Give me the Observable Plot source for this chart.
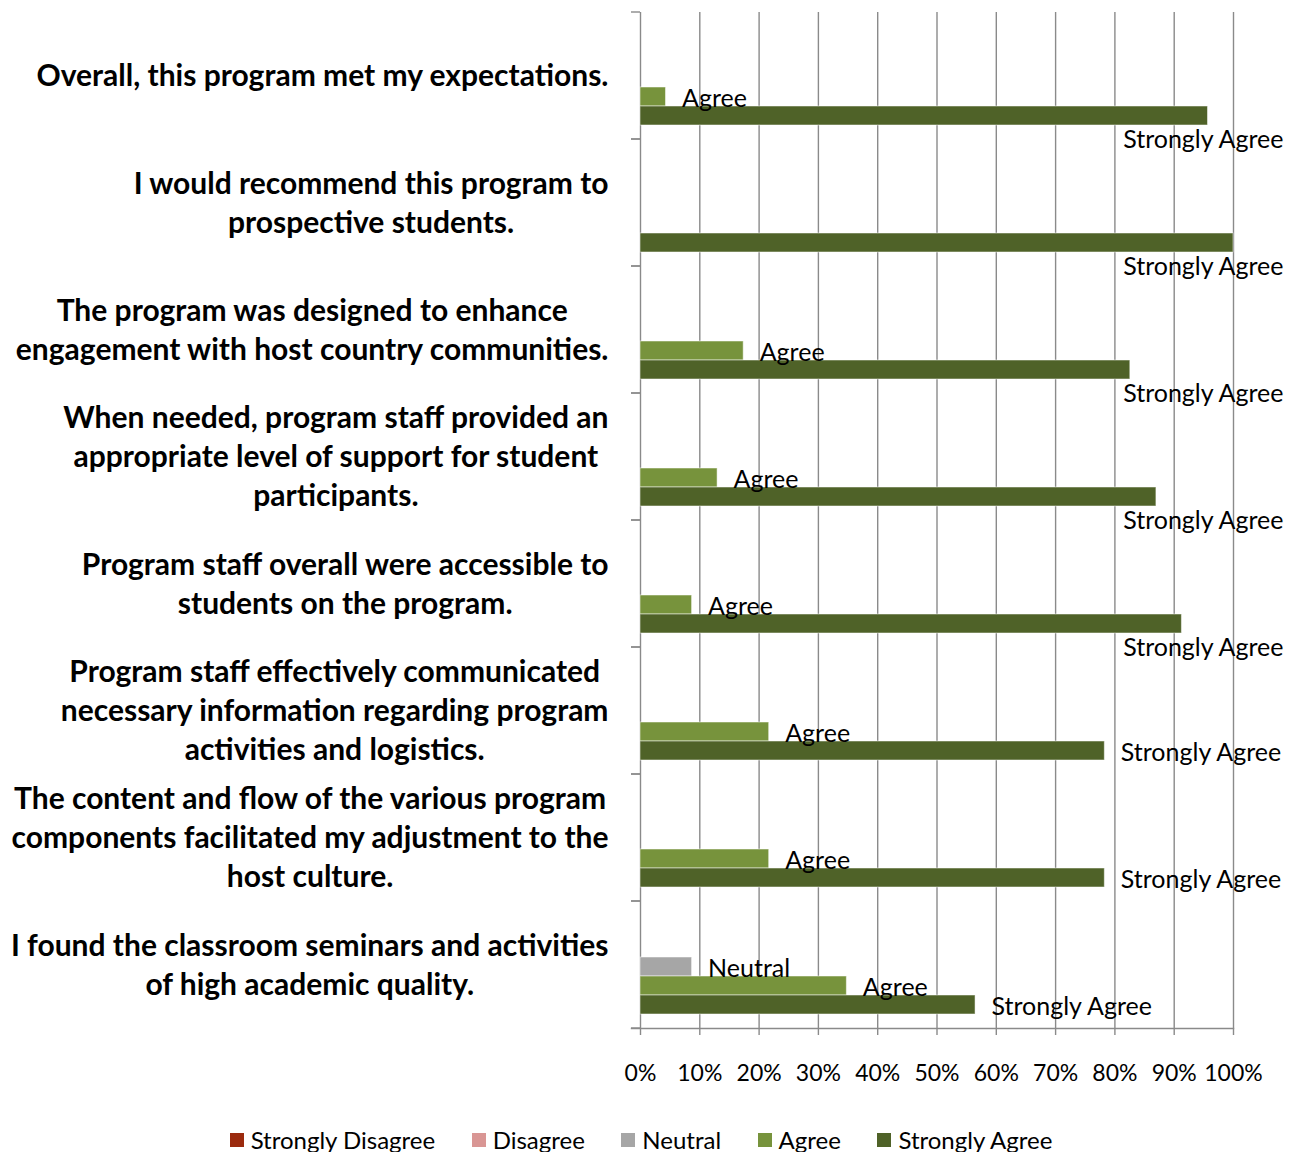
<!DOCTYPE html>
<html><head><meta charset="utf-8">
<script src="https://cdn.jsdelivr.net/npm/d3@7"></script>
<script src="https://cdn.jsdelivr.net/npm/@observablehq/plot@0.6"></script>
<style>
body{margin:0;background:#fff;font-family:Lato,sans-serif;}
#legend{display:flex;justify-content:center;gap:36.5px;margin-top:28px;font-size:24px;line-height:24px;padding-right:12px;color:#000;}
.item{display:flex;align-items:center;}
.sw{width:14px;height:14px;margin-right:7px;display:inline-block;}
</style></head><body>
<div id="chart"></div><div id="legend"></div>
<script>
const questions = [
  "Overall, this program met my expectations.",
  "I would recommend this program to\nprospective students.",
  "The program was designed to enhance\nengagement with host country communities.",
  "When needed, program staff provided an\nappropriate level of support for student\nparticipants.",
  "Program staff overall were accessible to\nstudents on the program.",
  "Program staff effectively communicated\nnecessary information regarding program\nactivities and logistics.",
  "The content and flow of the various program\ncomponents facilitated my adjustment to the\nhost culture.",
  "I found the classroom seminars and activities\nof high academic quality."
];
const responses = ["Strongly Disagree", "Disagree", "Neutral", "Agree", "Strongly Agree"];
const colors = ["#9b2a0e", "#d99694", "#a6a6a6", "#77933c", "#4f6228"];
const stronglyDisagree = [null, null, null, null, null, null, null, null];
const disagree = [null, null, null, null, null, null, null, null];
const neutral = [null, null, null, null, null, null, null, 8.7];
const agree = [4.3, null, 17.4, 13.0, 8.7, 21.7, 21.7, 34.8];
const stronglyAgree = [95.7, 100, 82.6, 87.0, 91.3, 78.3, 78.3, 56.5];
const xTicks = [0, 10, 20, 30, 40, 50, 60, 70, 80, 90, 100];

const series = [stronglyDisagree, disagree, neutral, agree, stronglyAgree];
const rows = [];
questions.forEach((q, i) => responses.forEach((r, j) => {
  const v = series[j][i];
  if (v != null) rows.push({question: q, response: r, value: v});
}));

const gridColor = "#8a8a8a";
const leftTicks = (index, scales, values, dims) => {
  const g = d3.create("svg:g").attr("stroke", gridColor).attr("stroke-width", 1.4);
  for (const y of [dims.marginTop, dims.height - dims.marginBottom]) {
    g.append("line").attr("x1", dims.marginLeft - 9).attr("x2", dims.marginLeft).attr("y1", y).attr("y2", y);
  }
  return g.node();
};

const chart = Plot.plot({
  width: 1294, height: 1100,
  marginLeft: 640, marginRight: 61, marginTop: 12, marginBottom: 72,
  style: {fontFamily: "Lato", background: "white", color: "black", overflow: "visible"},
  x: {domain: [0, 100]},
  y: {domain: responses, axis: null, paddingInner: 0, paddingOuter: 0.72, align: 0.55},
  fy: {domain: questions, axis: null, padding: 0},
  color: {domain: responses, range: colors},
  marks: [
    Plot.ruleX(xTicks, {stroke: gridColor, strokeWidth: 1.4}),
    leftTicks,
    Plot.barX(rows, {fy: "question", y: "response", x: "value", fill: "response", stroke: "white", strokeOpacity: 0.5, strokeWidth: 1}),
    Plot.text(rows.filter(d => d.value <= 80), {fy: "question", y: "response", x: "value", text: "response", textAnchor: "start", dx: 16, dy: 2, fontSize: 25, fill: "black"}),
    Plot.text(rows.filter(d => d.value > 80), {fy: "question", y: "response", text: "response", frameAnchor: "right", textAnchor: "end", dx: 50, dy: 24, fontSize: 25, fill: "black"}),
    Plot.text(questions, {fy: d => d, text: d => d, frameAnchor: "left", dx: -32, dy: -2, textAnchor: "end", lineAnchor: "middle", lineHeight: 1.3, fontSize: 30, fontWeight: "bold", fill: "black"}),
    Plot.axisX(xTicks, {tickFormat: d => d + "%", label: null, tickSize: 7, tickPadding: 29, fontSize: 23, stroke: gridColor, strokeWidth: 1.4, fill: "black"}),
    Plot.frame({anchor: "bottom", facetAnchor: "bottom", insetLeft: -9, stroke: gridColor, strokeWidth: 1.4})
  ]
});
document.getElementById("chart").append(chart);
chart.querySelectorAll('g[font-weight="bold"] text').forEach(t => {
  const w = t.getBBox().width;
  t.setAttribute("text-anchor", "middle");
  const spans = t.querySelectorAll("tspan");
  if (spans.length) spans.forEach(s => s.setAttribute("x", -w / 2));
  else t.setAttribute("x", -w / 2);
});

const legend = d3.select("#legend");
responses.forEach((r, i) => {
  const it = legend.append("div").attr("class", "item");
  it.append("span").attr("class", "sw").style("background", colors[i]);
  it.append("span").text(r);
});
</script>
</body></html>
